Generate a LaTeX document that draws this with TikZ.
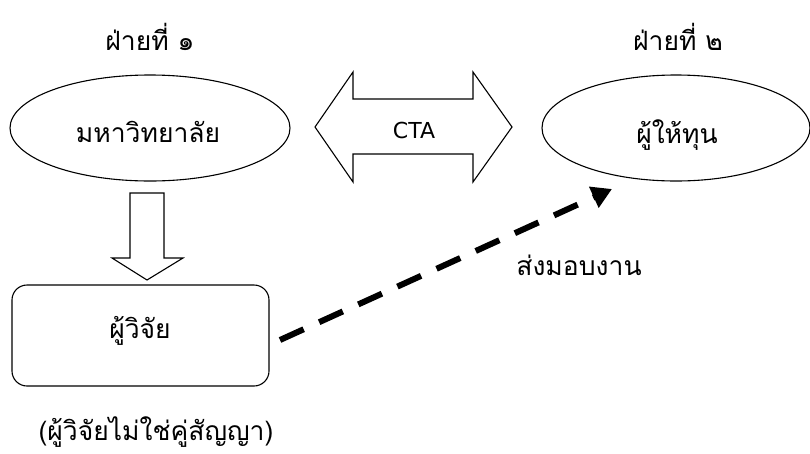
\documentclass[tikz,border=0pt]{standalone}
\usepackage{fontspec}
\newfontfamily\thaifont[Script=Thai]{Loma}
\newfontfamily\ctafont{DejaVu Sans}
\usetikzlibrary{arrows.meta}
\begin{document}
\begin{tikzpicture}[x=1pt,y=-1pt,
  thtext/.style={font=\thaifont\fontsize{26.5}{32}\selectfont, inner sep=0pt, anchor=base},
  outline/.style={draw=black, line width=1.1pt},
  bigarrow/.style={draw=black, line width=1.1pt, fill=white, line join=miter}]
\useasboundingbox (0,0) rectangle (810,453);
% parties
\node[thtext] (p1) at (150,50) {ฝ่ายที่ ๑};
\node[thtext] (p2) at (678,50) {ฝ่ายที่ ๒};
% ellipses
\draw[outline] (150,128) ellipse [x radius=140, y radius=53];
\node[thtext] (uni) at (148,142) {มหาวิทยาลัย};
\draw[outline] (676,128) ellipse [x radius=134, y radius=53];
\node[thtext] (fund) at (677,143) {ผู้ให้ทุน};
% CTA double arrow
\draw[bigarrow] (315,127) -- (353,72) -- (353,99) -- (473,99) -- (473,72) -- (512,127)
  -- (473,182) -- (473,154) -- (353,154) -- (353,182) -- cycle;
\node[font=\ctafont\fontsize{22}{26}\selectfont, inner sep=0pt, anchor=base] (cta) at (414,138) {CTA};
% down arrow
\draw[bigarrow] (130,193) -- (164,193) -- (164,258) -- (183,258) -- (147,280) -- (112,258) -- (130,258) -- cycle;
% researcher box
\node[outline, rounded corners=15pt, minimum width=257pt, minimum height=101pt, inner sep=0pt] (res) at (140.5,335.5) {};
\node[thtext] (restext) at (140,338) {ผู้วิจัย};
\node[thtext] (note) at (156,440) {(ผู้วิจัยไม่ใช่คู่สัญญา)};
% dashed delivery arrow
\coordinate (s) at (280,340);
\coordinate (t) at (612,189);
\draw[line width=6pt, dash pattern=on 26pt off 17pt, -{Triangle[length=20pt,width=22pt]}] (s) -- (t);
\node[thtext] (deliver) at (579,275) {ส่งมอบงาน};
\end{tikzpicture}
\end{document}
